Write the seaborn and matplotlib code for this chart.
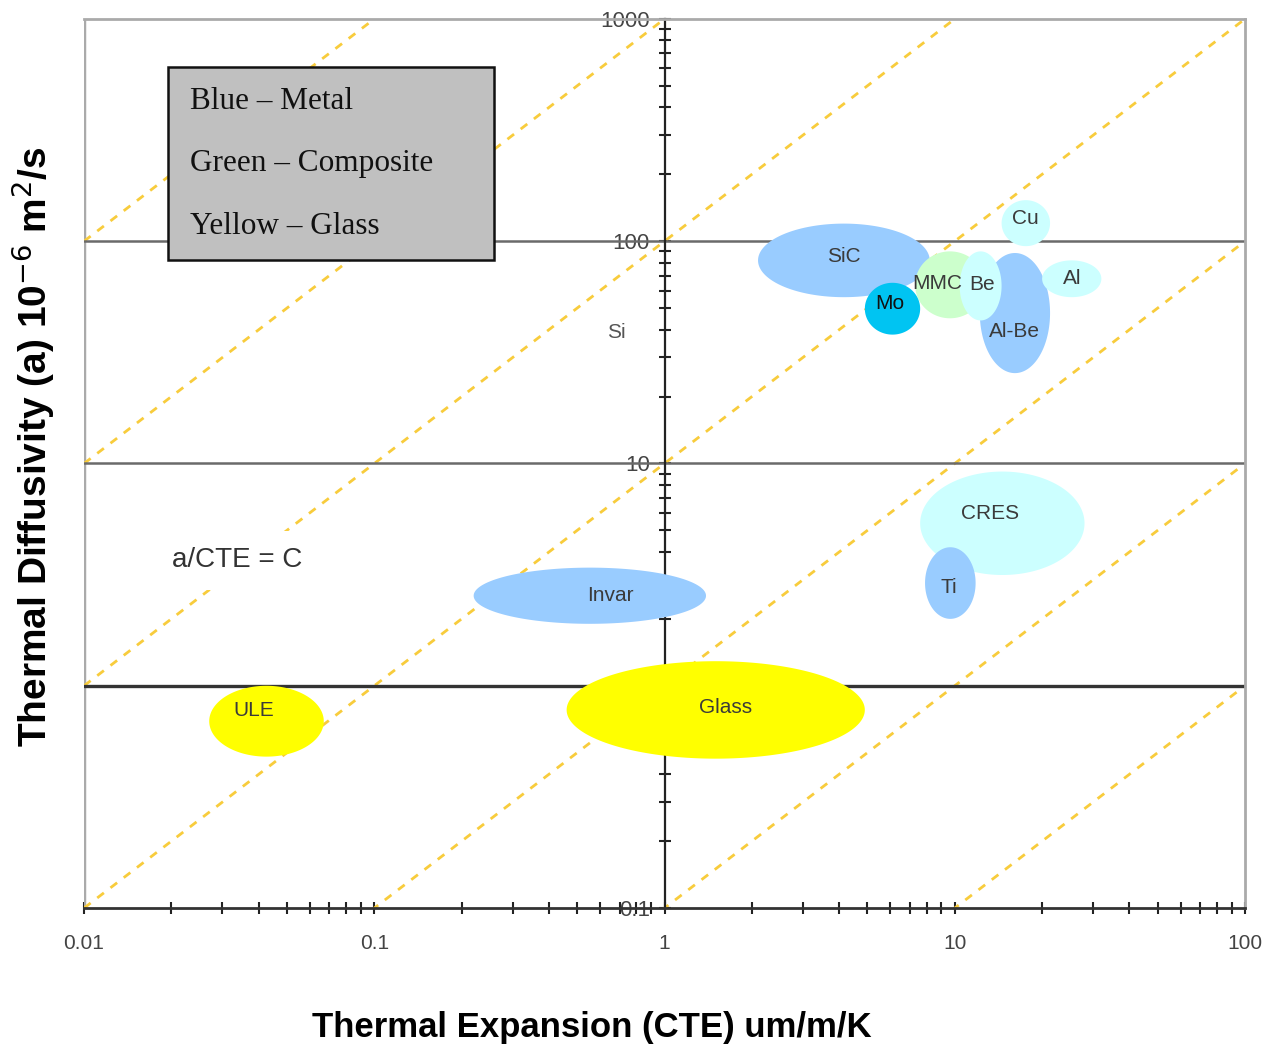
import numpy as np
import pandas as pd
import matplotlib
matplotlib.use("Agg")
import matplotlib.pyplot as plt
import seaborn as sns

# material regions: CTE range (um/m/K) and diffusivity range (1e-6 m^2/s)
materials = ["SiC", "Al-Be", "MMC", "Be", "Mo", "Cu", "Al", "CRES", "Ti", "Invar", "Glass", "ULE"]
cte_lo = [2.1, 12.2, 7.3, 10.4, 4.9, 14.5, 20.0, 7.6, 7.9, 0.22, 0.46, 0.027]
cte_hi = [8.2, 21.3, 12.7, 14.5, 7.6, 21.3, 32.0, 28.0, 11.8, 1.39, 4.9, 0.067]
diff_lo = [56, 25.5, 45, 44, 38, 95, 56, 3.15, 2.0, 1.9, 0.47, 0.48]
diff_hi = [120, 88.5, 90, 90, 65, 153, 82, 9.2, 4.2, 3.4, 1.29, 1.0]
colors = ["#99CCFF", "#99CCFF", "#CCFFCC", "#CCFFFF", "#00C4F2", "#CCFFFF", "#CCFFFF",
          "#CCFFFF", "#99CCFF", "#99CCFF", "#FFFF00", "#FFFF00"]

# a/CTE = C guide lines
c_values = [0.01, 0.1, 1, 10, 100, 1000, 10000]
ref_levels = [100, 10, 1]

x_ticks = [0.01, 0.1, 1, 10, 100]
x_tick_labels = ["0.01", "0.1", "1", "10", "100"]
y_ticks = [0.1, 1, 10, 100, 1000]
y_tick_labels = ["0.1", "1", "10", "100", "1000"]

legend_lines = ["Blue \u2013 Metal", "Green \u2013 Composite", "Yellow \u2013 Glass"]

# label nudges in points (style only)
label_offsets = {"SiC": (0, 3), "Al-Be": (0, -13), "MMC": (-9, 1), "Be": (1, 1),
                 "Mo": (-2, 4), "Cu": (0, 3), "CRES": (-9, 7), "Ti": (-1, -3),
                 "Invar": (15, 0), "Glass": (7, 2), "ULE": (-9, 8)}


def ellipse_points(lo_x, hi_x, lo_y, hi_y, n=200):
    # ellipse drawn in log-log space between the given ranges
    cx = (np.log10(lo_x) + np.log10(hi_x)) / 2
    rx = (np.log10(hi_x) - np.log10(lo_x)) / 2
    cy = (np.log10(lo_y) + np.log10(hi_y)) / 2
    ry = (np.log10(hi_y) - np.log10(lo_y)) / 2
    t = np.linspace(0, 2 * np.pi, n)
    return 10 ** (cx + rx * np.cos(t)), 10 ** (cy + ry * np.sin(t)), 10 ** cx, 10 ** cy


sns.set_theme(style="white")
plt.rcParams["font.family"] = ["Liberation Sans", "DejaVu Sans"]

fig = plt.figure(figsize=(12.73, 10.51), dpi=100)
ax = fig.add_axes([0.066, 0.136, 0.912, 0.846])
ax.set_xscale("log")
ax.set_yscale("log")

# guide lines
xs = np.array([0.01, 100.0])
for c in c_values:
    sns.lineplot(x=xs, y=c * xs, ax=ax, color="#F8CC3C", lw=2,
                 linestyle=(0, (3, 3)), zorder=1.2)

for lvl in ref_levels:
    ax.axhline(lvl, color="#333333" if lvl == 1 else "#6a6a6a",
               lw=2.4 if lvl == 1 else 1.8, zorder=1.5)

# material regions
for name, x0, x1, y0, y1, col in zip(materials, cte_lo, cte_hi, diff_lo, diff_hi, colors):
    ex, ey, cx, cy = ellipse_points(x0, x1, y0, y1)
    ax.fill(ex, ey, color=col, lw=0, zorder=3)
    ax.annotate(name, (cx, cy), xytext=label_offsets.get(name, (0, 0)),
                textcoords="offset points", ha="center", va="center", fontsize=15,
                color="#111111" if name == "Mo" else "#3a3a3a", zorder=4)

ax.text(0.685, 39, "Si", ha="center", va="center", fontsize=15, color="#555555", zorder=4)

ax.set_xlim(0.01, 100)
ax.set_ylim(0.1, 1000)

# frame and axes
for side in ["top", "right"]:
    ax.spines[side].set_color("#aaaaaa")
    ax.spines[side].set_linewidth(2)
ax.spines["bottom"].set_color("#333333")
ax.spines["bottom"].set_linewidth(2)
ax.spines["left"].set_position(("data", 1))
ax.spines["left"].set_color("#222222")
ax.spines["left"].set_linewidth(1.6)
ax.axvline(0.01, color="#aaaaaa", lw=2.5, zorder=1)

ax.set_xticks(x_ticks)
ax.set_xticklabels(x_tick_labels, fontsize=15, color="#444444")
ax.set_yticks(y_ticks)
ax.set_yticklabels(y_tick_labels, fontsize=16, color="#444444")
ax.tick_params(axis="both", which="both", direction="inout", length=9, width=1.5,
               color="#222222", left=True, bottom=True)
ax.tick_params(axis="x", which="major", pad=14)
ax.tick_params(axis="y", which="major", pad=6)

# material legend box
ax.add_patch(plt.Rectangle((0.0724, 0.729), 0.281, 0.217, transform=ax.transAxes,
                           facecolor="#C0C0C0", edgecolor="#111111", lw=1.8, zorder=5))
for i, line in enumerate(legend_lines):
    ax.text(0.0913, 0.907 - i * 0.07, line, transform=ax.transAxes, ha="left", va="center",
            fontsize=22.5, family=["Liberation Serif", "DejaVu Serif"], color="#111111", zorder=6)

ax.text(0.076, 0.391, "a/CTE = C", transform=ax.transAxes,
        ha="left", va="center", fontsize=20, color="#333333", zorder=5,
        bbox=dict(facecolor="white", edgecolor="none", pad=12))

fig.text(33 / 1273, 1 - 447 / 1051, "Thermal Diffusivity (a) 10$^{-6}$ m$^2$/s",
         rotation=90, ha="center", va="center", fontsize=28, fontweight="bold",
         color="black")
fig.text(592 / 1273, 1 - 1028 / 1051, "Thermal Expansion (CTE) um/m/K",
         ha="center", va="center", fontsize=25, fontweight="bold",
         color="black")

fig.savefig("out.png", dpi=100)
